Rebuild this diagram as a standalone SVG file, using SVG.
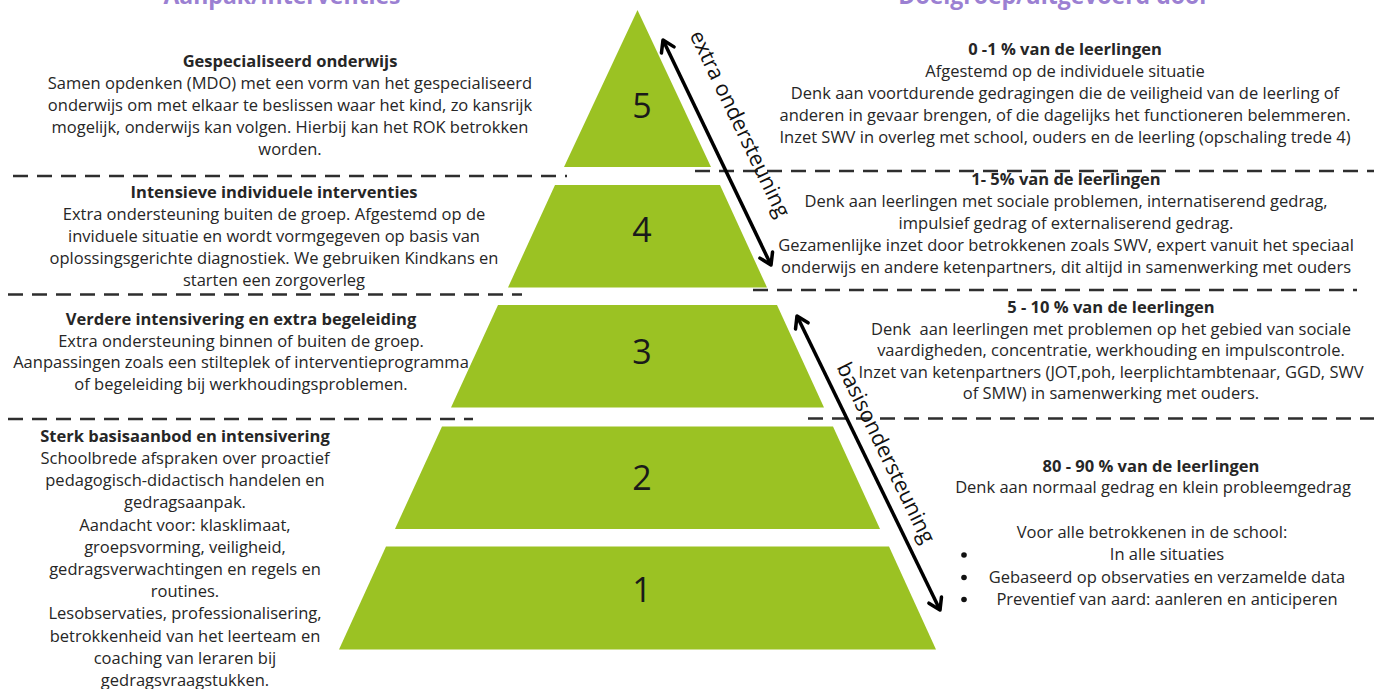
<svg xmlns="http://www.w3.org/2000/svg" width="1374" height="689" viewBox="0 0 1374 689">
<style>
  text { font-family: "Open Sans", "Liberation Sans", sans-serif; fill: #262626; }
  .b { font-size: 16.5px; text-anchor: middle; }
  .t { font-weight: 700; }
  .hdr { font-size: 23px; font-weight: 700; fill: #9b80d2; text-anchor: middle; }
  .num { font-size: 34px; text-anchor: middle; fill: #1a1a1a; }
  .lvl { fill: #9bc223; }
  .dash { stroke: #2e2e2e; stroke-width: 2.5; stroke-dasharray: 15 9; fill: none; }
  .arr { stroke: #000; stroke-width: 3.5; fill: none; marker-start: url(#ah); marker-end: url(#ah); }
  .rot { font-size: 21.5px; text-anchor: middle; fill: #111; }
</style>
<defs>
  <marker id="ah" viewBox="-14 -10 17 20" markerWidth="17" markerHeight="20" refX="0" refY="0" orient="auto-start-reverse" markerUnits="userSpaceOnUse">
    <path d="M-11,-7 L0,0 L-11,7" fill="none" stroke="#000" stroke-width="3.5" stroke-linejoin="round" stroke-linecap="round"/>
  </marker>
</defs>
<rect width="1374" height="689" fill="#fff"/>

<g id="headers">
  <text class="hdr" x="282" y="4">Aanpak/interventies</text>
  <text class="hdr" x="1054" y="4">Doelgroep/uitgevoerd door</text>
</g>

<g id="separators">
  <line class="dash" x1="13" y1="176" x2="567" y2="176"/>
  <line class="dash" x1="695" y1="171" x2="1374" y2="171"/>
  <line class="dash" x1="8" y1="294.5" x2="522" y2="294.5"/>
  <line class="dash" x1="753" y1="290" x2="1357" y2="290"/>
  <line class="dash" x1="8" y1="419" x2="473" y2="419"/>
  <line class="dash" x1="808" y1="418.5" x2="1374" y2="418.5"/>
</g>

<g id="tier5">
  <polygon class="lvl" points="637.5,10 711,167 564,167"/>
  <text class="num" x="642" y="118">5</text>
</g>
<g id="tier4">
  <polygon class="lvl" points="555,185 720,185 767,287.5 508,287.5"/>
  <text class="num" x="642" y="241.5">4</text>
</g>
<g id="tier3">
  <polygon class="lvl" points="498,305 777,305 824,407.5 451,407.5"/>
  <text class="num" x="642" y="364">3</text>
</g>
<g id="tier2">
  <polygon class="lvl" points="442,426.5 833,426.5 880,529 395,529"/>
  <text class="num" x="642" y="489.5">2</text>
</g>
<g id="tier1">
  <polygon class="lvl" points="386,546.5 889,546.5 936,649.5 339,649.5"/>
  <text class="num" x="642" y="601.5">1</text>
</g>

<g id="left5">
  <text class="b t" x="290" y="67">Gespecialiseerd onderwijs</text>
  <text class="b" x="290" y="89">Samen opdenken (MDO) met een vorm van het gespecialiseerd</text>
  <text class="b" x="290" y="111">onderwijs om met elkaar te beslissen waar het kind, zo kansrijk</text>
  <text class="b" x="290" y="133">mogelijk, onderwijs kan volgen. Hierbij kan het ROK betrokken</text>
  <text class="b" x="290" y="155">worden.</text>
</g>
<g id="left4">
  <text class="b t" x="274" y="198">Intensieve individuele interventies</text>
  <text class="b" x="274" y="220">Extra ondersteuning buiten de groep. Afgestemd op de</text>
  <text class="b" x="274" y="242">inviduele situatie en wordt vormgegeven op basis van</text>
  <text class="b" x="274" y="264">oplossingsgerichte diagnostiek. We gebruiken Kindkans en</text>
  <text class="b" x="274" y="286">starten een zorgoverleg</text>
</g>
<g id="left3">
  <text class="b t" x="241" y="325">Verdere intensivering en extra begeleiding</text>
  <text class="b" x="241" y="346.5">Extra ondersteuning binnen of buiten de groep.</text>
  <text class="b" x="241" y="368">Aanpassingen zoals een stilteplek of interventieprogramma</text>
  <text class="b" x="241" y="389.5">of begeleiding bij werkhoudingsproblemen.</text>
</g>
<g id="left12">
  <text class="b t" x="185" y="441.7">Sterk basisaanbod en intensivering</text>
  <text class="b" x="185" y="463.9">Schoolbrede afspraken over proactief</text>
  <text class="b" x="185" y="486.1">pedagogisch-didactisch handelen en</text>
  <text class="b" x="185" y="508.3">gedragsaanpak.</text>
  <text class="b" x="185" y="530.5">Aandacht voor: klasklimaat,</text>
  <text class="b" x="185" y="552.7">groepsvorming, veiligheid,</text>
  <text class="b" x="185" y="574.9">gedragsverwachtingen en regels en</text>
  <text class="b" x="185" y="597.1">routines.</text>
  <text class="b" x="185" y="619.3">Lesobservaties, professionalisering,</text>
  <text class="b" x="185" y="641.5">betrokkenheid van het leerteam en</text>
  <text class="b" x="185" y="663.7">coaching van leraren bij</text>
  <text class="b" x="185" y="685.9">gedragsvraagstukken.</text>
</g>

<g id="right5">
  <text class="b t" x="1065" y="55">0 -1 % van de leerlingen</text>
  <text class="b" x="1065" y="77">Afgestemd op de individuele situatie</text>
  <text class="b" x="1065" y="99">Denk aan voortdurende gedragingen die de veiligheid van de leerling of</text>
  <text class="b" x="1065" y="121">anderen in gevaar brengen, of die dagelijks het functioneren belemmeren.</text>
  <text class="b" x="1065" y="143">Inzet SWV in overleg met school, ouders en de leerling (opschaling trede 4)</text>
</g>
<g id="right4">
  <text class="b t" x="1066" y="185">1- 5% van de leerlingen</text>
  <text class="b" x="1066" y="207">Denk aan leerlingen met sociale problemen, internatiserend gedrag,</text>
  <text class="b" x="1066" y="228.5">impulsief gedrag of externaliserend gedrag.</text>
  <text class="b" x="1066" y="250.5">Gezamenlijke inzet door betrokkenen zoals SWV, expert vanuit het speciaal</text>
  <text class="b" x="1066" y="272.5">onderwijs en andere ketenpartners, dit altijd in samenwerking met ouders</text>
</g>
<g id="right3">
  <text class="b t" x="1111" y="312.5">5 - 10 % van de leerlingen</text>
  <text class="b" x="1111" y="334.5" xml:space="preserve">Denk  aan leerlingen met problemen op het gebied van sociale</text>
  <text class="b" x="1111" y="356">vaardigheden, concentratie, werkhouding en impulscontrole.</text>
  <text class="b" x="1111" y="377.5">Inzet van ketenpartners (JOT,poh, leerplichtambtenaar, GGD, SWV</text>
  <text class="b" x="1111" y="399">of SMW) in samenwerking met ouders.</text>
</g>
<g id="right12">
  <text class="b t" x="1151" y="471.5">80 - 90 % van de leerlingen</text>
  <text class="b" x="1153" y="493">Denk aan normaal gedrag en klein probleemgedrag</text>
  <text class="b" x="1152" y="537.5">Voor alle betrokkenen in de school:</text>
  <circle cx="964" cy="555" r="2.8" fill="#111"/>
  <text class="b" x="1167" y="560">In alle situaties</text>
  <circle cx="964" cy="577.5" r="2.8" fill="#111"/>
  <text class="b" x="1167" y="582.5">Gebaseerd op observaties en verzamelde data</text>
  <circle cx="964" cy="599.5" r="2.8" fill="#111"/>
  <text class="b" x="1167" y="604.5">Preventief van aard: aanleren en anticiperen</text>
</g>

<g id="connectors">
  <line class="arr" x1="663" y1="40" x2="771" y2="265"/>
  <line class="arr" x1="797" y1="316" x2="940" y2="610"/>
  <text class="rot" transform="translate(733.4,127) rotate(64.4)">extra ondersteuning</text>
  <text class="rot" transform="translate(879.5,456) rotate(64.1)">basisondersteuning</text>
</g>
</svg>
